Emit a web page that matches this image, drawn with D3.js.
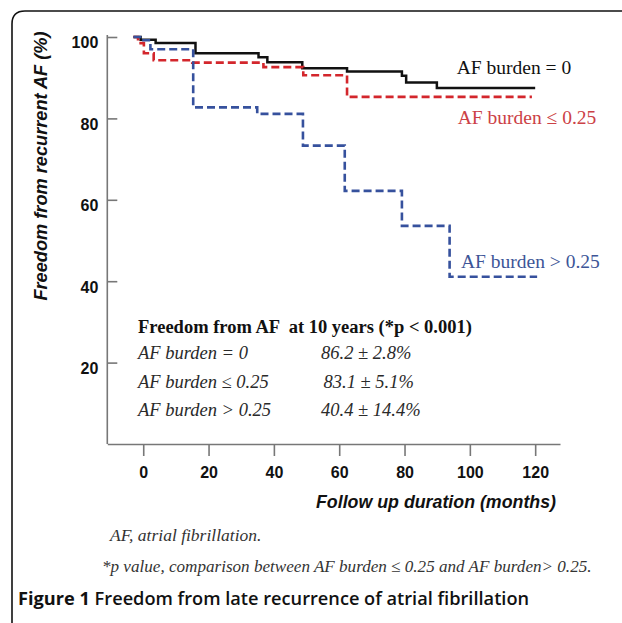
<!DOCTYPE html>
<html>
<head>
<meta charset="utf-8">
<script src="https://cdn.jsdelivr.net/npm/d3@7"></script>
<style>
  body { margin: 0; background: #fff; }
  svg { display: block; }
  .axis path, .axis line { stroke: #777; stroke-width: 1.6px; }
  .axis text { font-family: "Liberation Sans", Arial, sans-serif; font-weight: bold; font-size: 16px; fill: #111; }
</style>
</head>
<body>
<div id="chart"></div>
<script>
// Kaplan-Meier style step curves (months, % free of AF)
var timesZero = [-3, -0.8, 3.8, 16, 35.3, 38, 48.7, 62.4, 79.2, 80.5, 89.9, 120]
var survZero = [100, 99.3, 98.5, 96.0, 95.0, 93.8, 92.3, 91.5, 90.5, 88.8, 87.5, 87.5]

var timesLow = [-3, -1.6, 0.2, 3.2, 15, 36.8, 49, 62.4, 119]
var survLow = [100, 98.5, 96.0, 94.3, 93.7, 92.6, 90.6, 85.3, 85.3]

var timesHigh = [-3, -0.5, 2.2, 15.3, 34.9, 48.9, 61.7, 79.2, 93.8, 120.6]
var survHigh = [100, 99.2, 97.0, 82.7, 81.1, 73.3, 62.2, 53.6, 41.1, 41.1]

var xTicks = [0, 20, 40, 60, 80, 100, 120]
var yTicks = [20, 40, 60, 80, 100]

var seriesNames = ['AF burden = 0', 'AF burden \u2264 0.25', 'AF burden > 0.25']
var seriesColors = ['#111111', '#d3262c', '#36519d']
var labelColors = ['#111111', '#cc4146', '#3d5597']

var tableRows = ['AF burden = 0', 'AF burden \u2264 0.25', 'AF burden > 0.25']
var tableValues = ['86.2 \u00b1 2.8%', '83.1 \u00b1 5.1%', '40.4 \u00b1 14.4%']

var width = 622
var height = 623

var svg = d3.select('#chart')
    .append('svg')
    .attr('width', width)
    .attr('height', height)

// frame with rounded top-left corner
svg.append('path')
    .attr('d', 'M12,623 L12,24 Q12,11 25,11 L622,11')
    .attr('fill', 'none')
    .attr('stroke', '#111')
    .attr('stroke-width', 1.6)

// scales
var x = d3.scaleLinear().domain([-11, 127.6]).range([107.3, 560])
var y = d3.scaleLinear().domain([0, 100]).range([444, 37])

// x axis
var gx = svg.append('g')
    .attr('class', 'axis')
    .attr('transform', 'translate(0,' + y(0) + ')')
    .call(d3.axisBottom(x).tickValues(xTicks).tickSize(12).tickSizeOuter(0).tickPadding(8))
gx.selectAll('text').attr('dy', '0.85em')

// y axis, ticks point inward
var gy = svg.append('g')
    .attr('class', 'axis')
    .attr('transform', 'translate(' + x(-11) + ',0)')
    .call(d3.axisLeft(y).tickValues(yTicks).tickSize(-10).tickSizeOuter(0).tickPadding(9))
gy.selectAll('text').attr('dy', '0.68em')
gy.select('.domain').attr('d', 'M0,' + y(0) + 'V' + (y(100) - 2))

// step curves
var line = d3.line()
    .x(function (d) { return x(d[0]) })
    .y(function (d) { return y(d[1]) })
    .curve(d3.curveStepAfter)

var allSeries = [
    d3.zip(timesZero, survZero),
    d3.zip(timesLow, survLow),
    d3.zip(timesHigh, survHigh)
]

allSeries.forEach(function (pts, i) {
    svg.append('path')
        .datum(pts)
        .attr('d', line)
        .attr('fill', 'none')
        .attr('stroke', seriesColors[i])
        .attr('stroke-width', i === 0 ? 2.5 : 2.6)
        .attr('stroke-dasharray', i === 0 ? null : '8,4')
})

// series labels
var serif = '"Liberation Serif", "Times New Roman", serif'
var labelPos = [[96, 90.9], [96.3, 78.6], [97.3, 43.2]]
labelPos.forEach(function (p, i) {
    svg.append('text')
        .attr('x', x(p[0]))
        .attr('y', y(p[1]))
        .attr('fill', labelColors[i])
        .style('font-family', serif)
        .style('font-size', '19.5px')
        .text(seriesNames[i])
})

// results table
svg.append('text')
    .attr('x', 138)
    .attr('y', 333)
    .attr('fill', '#111')
    .style('font-family', serif)
    .style('font-weight', 'bold')
    .style('font-size', '18.5px')
    .style('white-space', 'pre')
    .text('Freedom from AF  at 10 years (*p < 0.001)')

tableRows.forEach(function (r, i) {
    svg.append('text')
        .attr('x', 138)
        .attr('y', 359 + i * 28.5)
        .attr('fill', '#2a2a2a')
        .style('font-family', serif)
        .style('font-style', 'italic')
        .style('font-size', '18.5px')
        .text(r)
    svg.append('text')
        .attr('x', i === 1 ? 323.5 : 321)
        .attr('y', 359 + i * 28.5)
        .attr('fill', '#2a2a2a')
        .style('font-family', serif)
        .style('font-style', 'italic')
        .style('font-size', '18.5px')
        .text(tableValues[i])
})

// axis titles
svg.append('text')
    .attr('x', 436)
    .attr('y', 508)
    .attr('text-anchor', 'middle')
    .attr('fill', '#111')
    .style('font-family', '"Liberation Sans", Arial, sans-serif')
    .style('font-weight', 'bold')
    .style('font-style', 'italic')
    .style('font-size', '17.8px')
    .text('Follow up duration (months)')

svg.append('text')
    .attr('transform', 'translate(47,166) rotate(-90)')
    .attr('text-anchor', 'middle')
    .attr('fill', '#111')
    .style('font-family', '"Liberation Sans", Arial, sans-serif')
    .style('font-weight', 'bold')
    .style('font-style', 'italic')
    .style('font-size', '18.2px')
    .text('Freedom from recurrent AF (%)')

// footnotes
svg.append('text')
    .attr('x', 110)
    .attr('y', 541)
    .attr('fill', '#333')
    .style('font-family', serif)
    .style('font-style', 'italic')
    .style('font-size', '17.5px')
    .text('AF, atrial fibrillation.')

svg.append('text')
    .attr('x', 102)
    .attr('y', 572)
    .attr('fill', '#333')
    .style('font-family', serif)
    .style('font-style', 'italic')
    .style('font-size', '17.1px')
    .text('*p value, comparison between AF burden \u2264 0.25 and AF burden> 0.25.')

// caption
var cap = svg.append('text')
    .attr('x', 18)
    .attr('y', 605)
    .attr('fill', '#111')
    .style('font-family', '"Open Sans", "Noto Sans", sans-serif')
    .style('font-size', '18.2px')
cap.append('tspan').style('font-weight', 'bold').text('Figure 1')
cap.append('tspan').style('font-weight', '600').text(' Freedom from late recurrence of atrial fibrillation')
</script>
</body>
</html>
